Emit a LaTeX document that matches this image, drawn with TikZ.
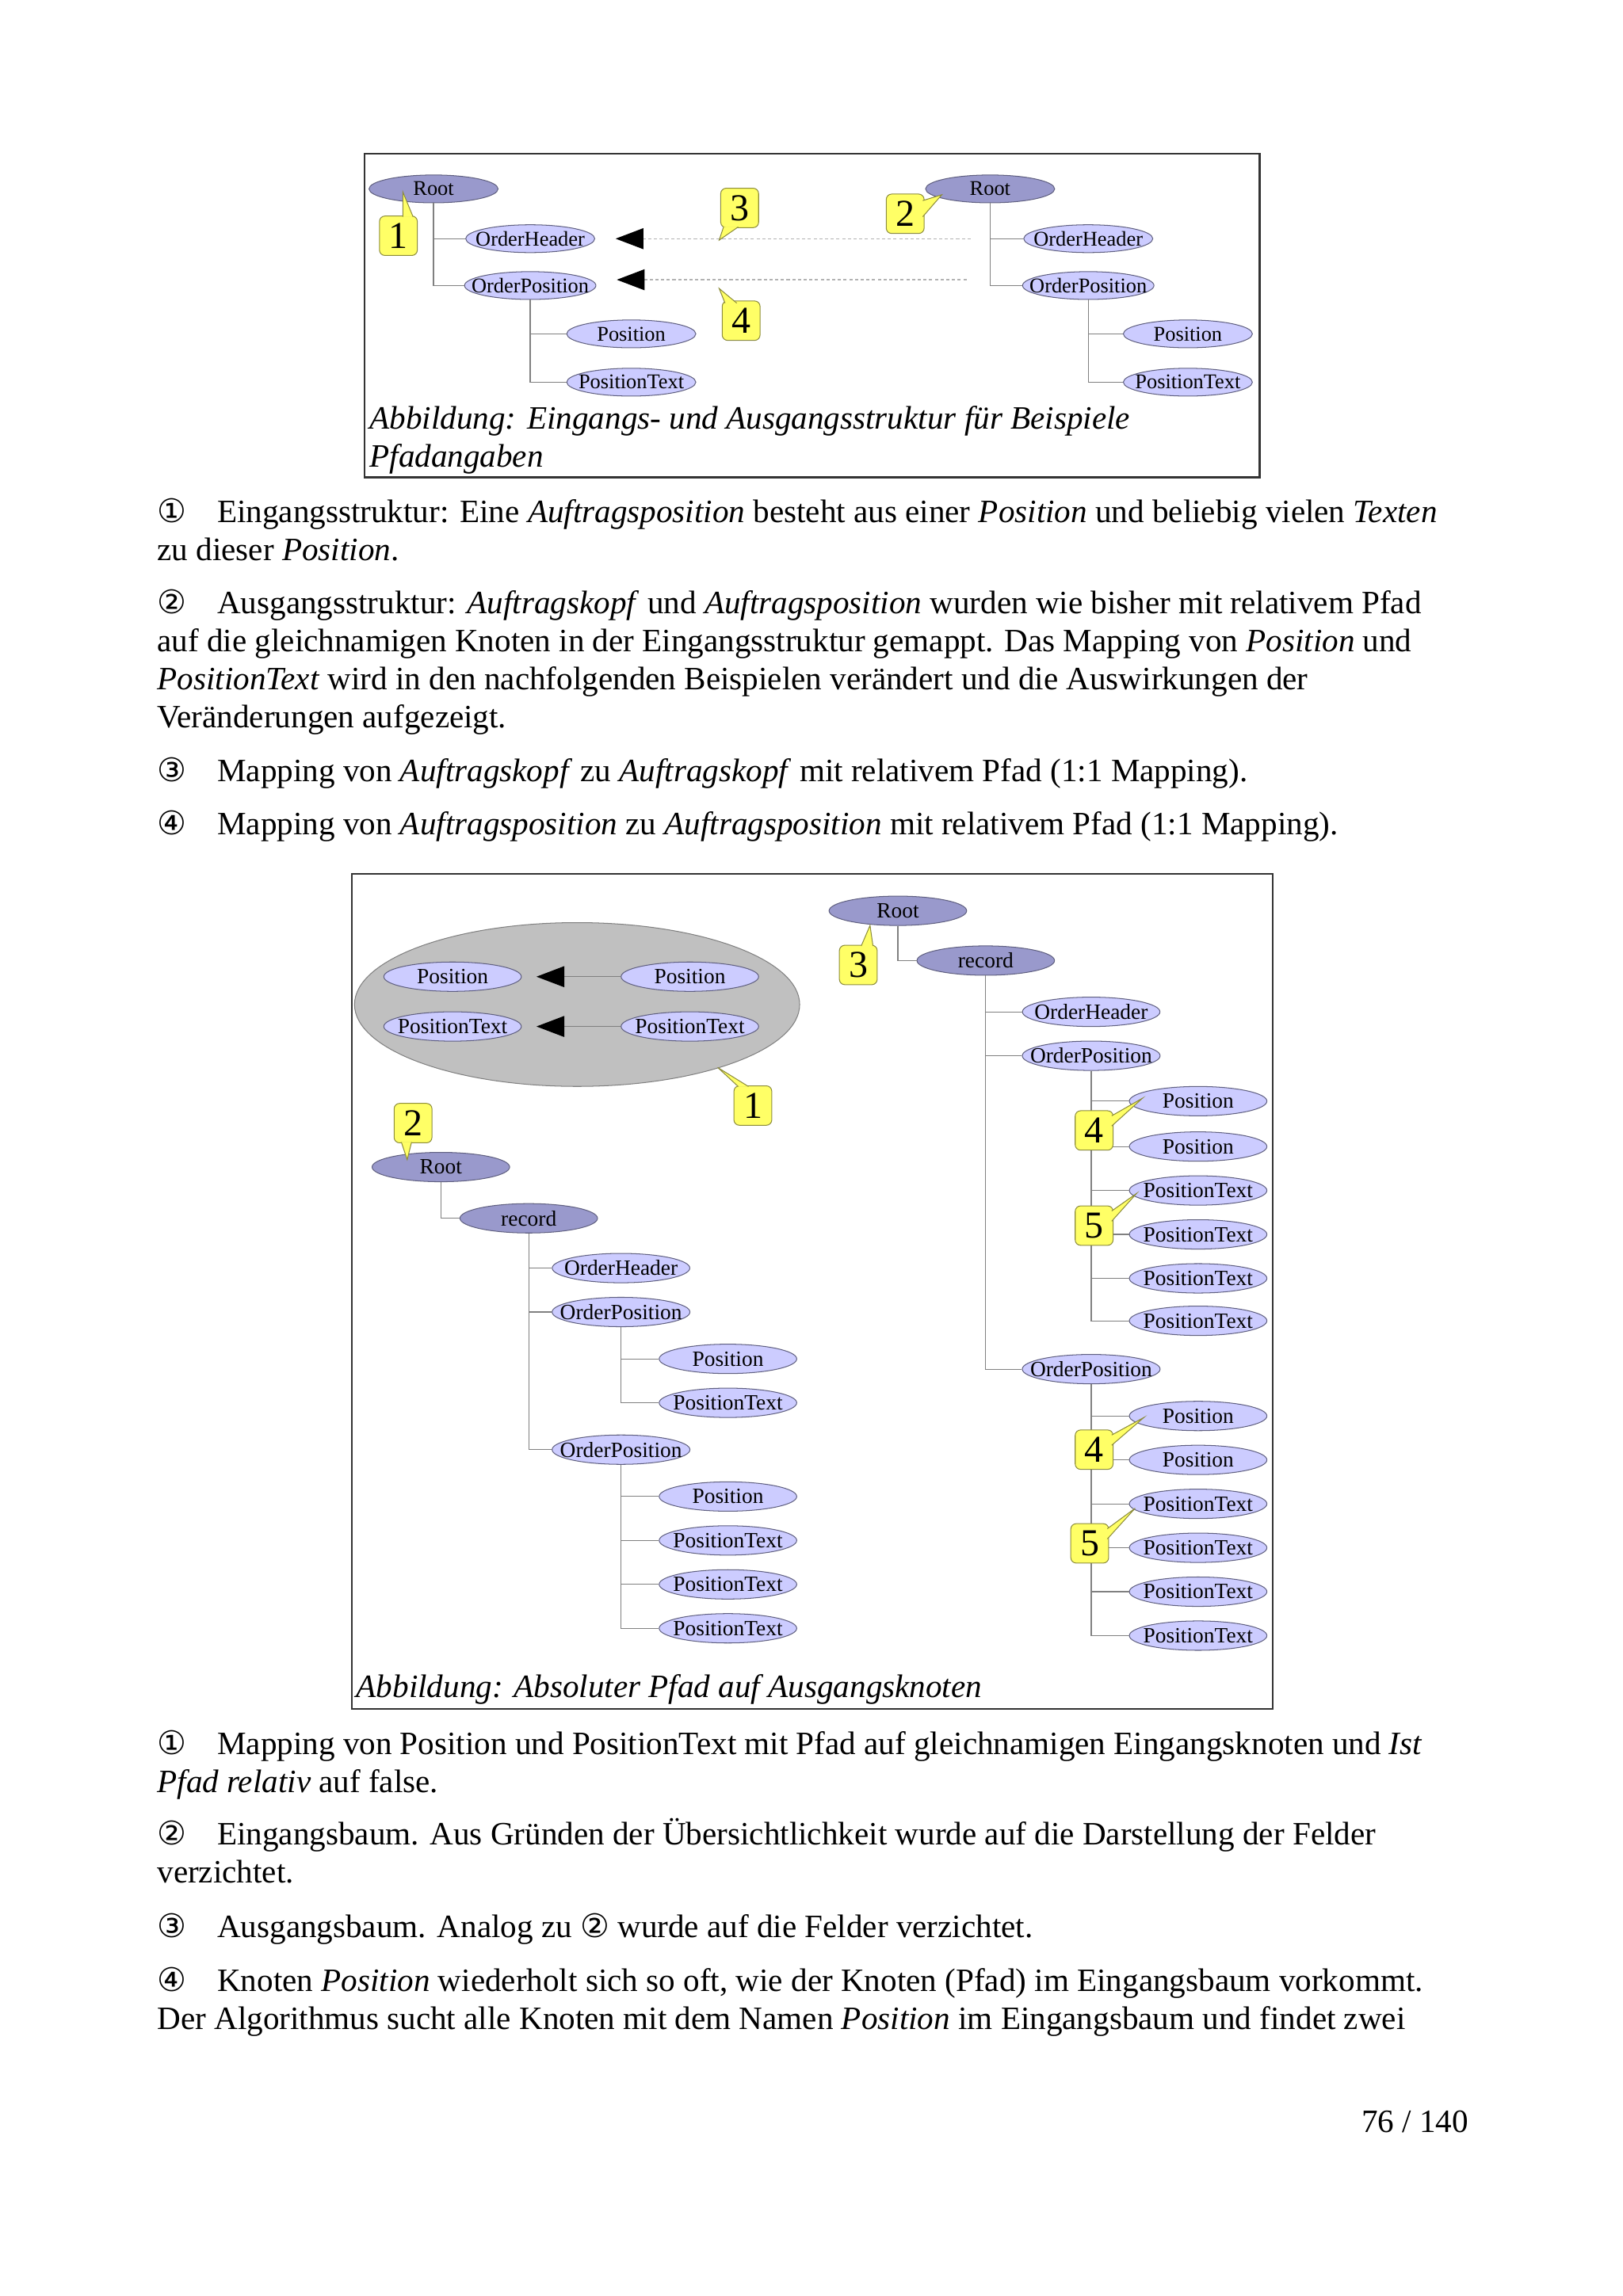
\documentclass[tikz,border=0pt]{standalone}
\usepackage{fontspec}
\setmainfont{Liberation Serif}
\newfontfamily\symfont{DejaVu Sans}
\usetikzlibrary{positioning,arrows.meta,shapes.geometric}
\definecolor{knotfill}{RGB}{204,204,255}
\definecolor{rootfill}{RGB}{153,153,204}
\definecolor{knotline}{RGB}{96,96,128}
\definecolor{tagfill}{RGB}{255,255,102}
\definecolor{tagline}{RGB}{140,140,60}
\definecolor{setfill}{RGB}{192,192,192}
\newcommand{\cnum}[1]{{\symfont #1}}

\begin{document}
\begin{tikzpicture}[x=0.18953mm, y=-0.18953mm, font=\fontsize{12}{14}\selectfont,
  knot/.style={ellipse, draw=knotline, fill=knotfill, line width=0.3pt, minimum width=16.7mm,
    minimum height=3.6mm, inner xsep=-4.5pt, inner ysep=-0.5pt, font=\fontsize{7.7}{8}\selectfont},
  rknot/.style={knot, fill=rootfill},
  bknot/.style={knot, minimum width=17.8mm, minimum height=3.8mm, font=\fontsize{8}{9}\selectfont},
  brknot/.style={bknot, fill=rootfill},
  tag/.style={draw=tagline, fill=tagfill, line width=0.3pt, rounded corners=0.7mm, minimum width=4.9mm,
    minimum height=5.1mm, inner sep=0pt, font=\fontsize{14}{14}\selectfont},
  tagptr/.style={draw=tagline, fill=tagfill, line width=0.3pt},
  tree/.style={draw=gray, line width=0.35pt},
  maplink/.style={gray!60, dash pattern=on 1.2pt off 0.9pt, line width=0.4pt,
    -{Triangle[length=3.6mm, width=2.7mm, color=black]}},
  setlink/.style={gray, line width=0.4pt, -{Triangle[length=3.6mm, width=2.7mm, color=black]}},
  txt/.style={anchor=base west, inner sep=0pt},
  frame/.style={draw=black!80, line width=0.6pt}]
  \useasboundingbox (0,0) rectangle (1108,1568);

  % --- Abbildung 1: Eingangs- und Ausgangsstruktur
  \draw[frame] (249,105) rectangle (860,326);
  \node[rknot] (rootL) at (296,129) {Root};
  \node[knot] (ohL) at (362,163) {OrderHeader};
  \node[knot] (opL) at (362,195) {OrderPosition};
  \node[knot] (posL) at (431,228) {Position};
  \node[knot] (ptL) at (431,261) {PositionText};
  \draw[tree] (rootL.south) |- (ohL.west);
  \draw[tree] (rootL.south) |- (opL.west);
  \draw[tree] (opL.south) |- (posL.west);
  \draw[tree] (opL.south) |- (ptL.west);

  \node[rknot] (rootR) at (676,129) {Root};
  \node[knot] (ohR) at (743,163) {OrderHeader};
  \node[knot] (opR) at (743,195) {OrderPosition};
  \node[knot] (posR) at (811,228) {Position};
  \node[knot] (ptR) at (811,261) {PositionText};
  \draw[tree] (rootR.south) |- (ohR.west);
  \draw[tree] (rootR.south) |- (opR.west);
  \draw[tree] (opR.south) |- (posR.west);
  \draw[tree] (opR.south) |- (ptR.west);

  \draw[maplink, shorten <=6.8mm, shorten >=2.65mm] (ohR.west) -- (ohL.east);
  \draw[maplink, shorten <=7.2mm, shorten >=2.65mm] ([yshift=0.75mm]opR.west) -- ([yshift=0.75mm]opL.east);

  \node[tag] (a1) at (272,161) {1};
  \filldraw[tagptr] (275,148) -- (275,131) -- (282,148);
  \node[tag] (a2) at (618,146) {2};
  \filldraw[tagptr] (630,137) -- (643,133) -- (630,148);
  \node[tag] (a3) at (505,142) {3};
  \filldraw[tagptr] (494,155) -- (491,164) -- (504,155);
  \node[tag] (a4) at (506,219) {4};
  \filldraw[tagptr] (495,207) -- (491,197) -- (503,207);

  \node[txt, font=\fontsize{12}{14}\selectfont\itshape] (cap1a) at (252,293) {Abbildung: Eingangs- und Ausgangsstruktur für Beispiele};
  \node[txt, font=\fontsize{12}{14}\selectfont\itshape] (cap1b) at (252,319) {Pfadangaben};

  % --- Erläuterungen 1
  \node[txt] (n1) at (107,357) {\cnum{①}};
  \node[txt] (t1a) at (148,357) {Eingangsstruktur: Eine \textit{Auftragsposition} besteht aus einer \textit{Position} und beliebig vielen \textit{Texten}};
  \node[txt] (t1b) at (107,383) {zu dieser \textit{Position}.};
  \node[txt] (n2) at (107,419) {\cnum{②}};
  \node[txt] (t2a) at (148,419) {Ausgangsstruktur: \textit{Auftragskopf} und \textit{Auftragsposition} wurden wie bisher mit relativem Pfad};
  \node[txt] (t2b) at (107,445) {auf die gleichnamigen Knoten in der Eingangsstruktur gemappt. Das Mapping von \textit{Position} und};
  \node[txt] (t2c) at (107,471) {\textit{PositionText} wird in den nachfolgenden Beispielen verändert und die Auswirkungen der};
  \node[txt] (t2d) at (107,497) {Veränderungen aufgezeigt.};
  \node[txt] (n3) at (107,534) {\cnum{③}};
  \node[txt] (t3a) at (148,534) {Mapping von \textit{Auftragskopf} zu \textit{Auftragskopf} mit relativem Pfad (1:1 Mapping).};
  \node[txt] (n4) at (107,570) {\cnum{④}};
  \node[txt] (t4a) at (148,570) {Mapping von \textit{Auftragsposition} zu \textit{Auftragsposition} mit relativem Pfad (1:1 Mapping).};

  % --- Abbildung 2: Absoluter Pfad
  \draw[frame] (240,597) rectangle (869,1167);
  \node[ellipse, draw=gray, fill=setfill, line width=0.3pt, minimum width=57.6mm, minimum height=21.2mm] (grp) at (394,686) {};
  \node[bknot] (gposL) at (309,667) {Position};
  \node[bknot] (gptL) at (309,701) {PositionText};
  \node[bknot] (gposR) at (471,667) {Position};
  \node[bknot] (gptR) at (471,701) {PositionText};
  \draw[setlink, shorten >=1.9mm] (gposR.west) -- (gposL.east);
  \draw[setlink, shorten >=1.9mm] (gptR.west) -- (gptL.east);
  \node[tag] (b1) at (514,755) {1};
  \filldraw[tagptr] (504,742) -- (490,729) -- (511,742);

  % Eingangsbaum
  \node[brknot] (eRoot) at (301,797) {Root};
  \node[brknot] (eRec) at (361,832) {record};
  \node[bknot] (eOH) at (424,866) {OrderHeader};
  \node[bknot] (eOP1) at (424,896) {OrderPosition};
  \node[bknot] (eP1) at (497,928) {Position};
  \node[bknot] (eT1) at (497,958) {PositionText};
  \node[bknot] (eOP2) at (424,990) {OrderPosition};
  \node[bknot] (eP2) at (497,1022) {Position};
  \node[bknot] (eT2) at (497,1052) {PositionText};
  \node[bknot] (eT3) at (497,1082) {PositionText};
  \node[bknot] (eT4) at (497,1112) {PositionText};
  \draw[tree] (eRoot.south) |- (eRec.west);
  \foreach \k in {eOH,eOP1,eOP2} \draw[tree] (eRec.south) |- (\k.west);
  \foreach \k in {eP1,eT1} \draw[tree] (eOP1.south) |- (\k.west);
  \foreach \k in {eP2,eT2,eT3,eT4} \draw[tree] (eOP2.south) |- (\k.west);
  \node[tag] (b2) at (282,767) {2};
  \filldraw[tagptr] (274,780) -- (278,792) -- (281,780);

  % Ausgangsbaum
  \node[brknot] (aRoot) at (613,622) {Root};
  \node[brknot] (aRec) at (673,656) {record};
  \node[bknot] (aOH) at (745,691) {OrderHeader};
  \node[bknot] (aOP1) at (745,721) {OrderPosition};
  \node[bknot] (aP1) at (818,752) {Position};
  \node[bknot] (aP2) at (818,783) {Position};
  \node[bknot] (aT1) at (818,813) {PositionText};
  \node[bknot] (aT2) at (818,843) {PositionText};
  \node[bknot] (aT3) at (818,873) {PositionText};
  \node[bknot] (aT4) at (818,902) {PositionText};
  \node[bknot] (aOP2) at (745,935) {OrderPosition};
  \node[bknot] (aP3) at (818,967) {Position};
  \node[bknot] (aP4) at (818,997) {Position};
  \node[bknot] (aT5) at (818,1027) {PositionText};
  \node[bknot] (aT6) at (818,1057) {PositionText};
  \node[bknot] (aT7) at (818,1087) {PositionText};
  \node[bknot] (aT8) at (818,1117) {PositionText};
  \draw[tree] (aRoot.south) |- (aRec.west);
  \foreach \k in {aOH,aOP1,aOP2} \draw[tree] (aRec.south) |- (\k.west);
  \foreach \k in {aP1,aP2,aT1,aT2,aT3,aT4} \draw[tree] (aOP1.south) |- (\k.west);
  \foreach \k in {aP3,aP4,aT5,aT6,aT7,aT8} \draw[tree] (aOP2.south) |- (\k.west);
  \node[tag] (b3) at (586,659) {3};
  \filldraw[tagptr] (588,646) -- (594,632) -- (596,646);
  \node[tag] (b4) at (747,772) {4};
  \filldraw[tagptr] (759,762) -- (780,750) -- (759,769);
  \node[tag] (b5) at (747,837) {5};
  \filldraw[tagptr] (759,827) -- (776,815) -- (759,834);
  \node[tag] (b6) at (747,990) {4};
  \filldraw[tagptr] (759,980) -- (781,968) -- (759,987);
  \node[tag] (b7) at (744,1054) {5};
  \filldraw[tagptr] (756,1044) -- (775,1030) -- (756,1051);

  \node[txt, font=\fontsize{12}{14}\selectfont\itshape] (cap2) at (243,1159) {Abbildung: Absoluter Pfad auf Ausgangsknoten};

  % --- Erläuterungen 2
  \node[txt] (n5) at (107,1198) {\cnum{①}};
  \node[txt] (t5a) at (148,1198) {Mapping von Position und PositionText mit Pfad auf gleichnamigen Eingangsknoten und \textit{Ist}};
  \node[txt] (t5b) at (107,1224) {\textit{Pfad relativ} auf false.};
  \node[txt] (n6) at (107,1260) {\cnum{②}};
  \node[txt] (t6a) at (148,1260) {Eingangsbaum. Aus Gründen der Übersichtlichkeit wurde auf die Darstellung der Felder};
  \node[txt] (t6b) at (107,1286) {verzichtet.};
  \node[txt] (n7) at (107,1323) {\cnum{③}};
  \node[txt] (t7a) at (148,1323) {Ausgangsbaum. Analog zu \cnum{②} wurde auf die Felder verzichtet.};
  \node[txt] (n8) at (107,1360) {\cnum{④}};
  \node[txt] (t8a) at (148,1360) {Knoten \textit{Position} wiederholt sich so oft, wie der Knoten (Pfad) im Eingangsbaum vorkommt.};
  \node[txt] (t8b) at (107,1386) {Der Algorithmus sucht alle Knoten mit dem Namen \textit{Position} im Eingangsbaum und findet zwei};

  \node[anchor=base east, inner sep=0pt] (page) at (1003,1456) {76 / 140};
\end{tikzpicture}
\end{document}
